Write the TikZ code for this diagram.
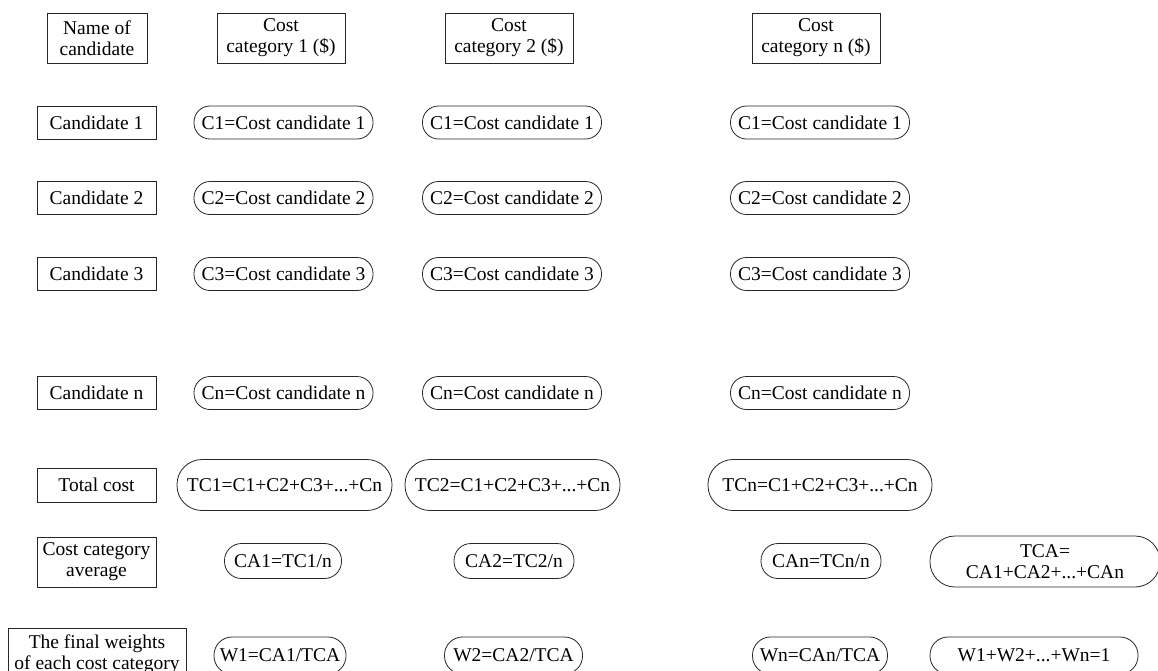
\documentclass[tikz,border=0pt]{standalone}
\usepackage{fontspec}
\setmainfont{Liberation Serif}
\begin{document}
\begin{tikzpicture}[x=1pt,y=-1pt,
  base/.style={draw=black!85, line width=0.8pt, inner sep=0pt, align=center,
    font=\fontsize{19.5}{21}\selectfont},
  box/.style={base, rectangle, minimum width=#1},
  pill/.style={base, rectangle, rounded corners=16pt, minimum width=#1, minimum height=33pt},
  bigpill/.style={base, rectangle, rounded corners=25pt, minimum width=#1, minimum height=51pt},
  midpill/.style={base, rectangle, rounded corners=17pt, minimum width=#1, minimum height=35pt}
]
\useasboundingbox (0,0) rectangle (1158,670);
\clip (0,0) rectangle (1158,670);
% header
\node[box=100pt, minimum height=50pt] (hName) at (97,38) {Name of\\candidate};
\node[box=128pt, minimum height=50pt] (hC1) at (281,38) {Cost\\category 1 (\$)};
\node[box=128pt, minimum height=50pt] (hC2) at (509,38) {Cost\\category 2 (\$)};
\node[box=128pt, minimum height=50pt] (hCn) at (816,38) {Cost\\category n (\$)};
% left column
\node[box=119pt, minimum height=33pt] (cand1) at (96.5,122.5) {Candidate 1};
\node[box=119pt, minimum height=33pt] (cand2) at (96.5,198) {Candidate 2};
\node[box=119pt, minimum height=33pt] (cand3) at (96.5,274) {Candidate 3};
\node[box=119pt, minimum height=33pt] (candn) at (96.5,393) {Candidate n};
\node[box=119pt, minimum height=34pt] (total) at (96.5,485) {Total cost};
\node[box=119pt, minimum height=50pt] (avg) at (96.5,562) {Cost category\\average};
\node[box=178pt, minimum height=52pt] (final) at (97,654) {The final weights\\of each cost category};
% cost cells
\foreach \col/\x in {a/283.5, b/512, c/820}{
  \node[pill=179pt] (\col1) at (\x,122.5) {C1=Cost candidate 1};
  \node[pill=179pt] (\col2) at (\x,198) {C2=Cost candidate 2};
  \node[pill=179pt] (\col3) at (\x,274) {C3=Cost candidate 3};
  \node[pill=179pt] (\col n) at (\x,393) {Cn=Cost candidate n};
}
% totals
\node[bigpill=215pt] (tc1) at (284.5,485) {TC1=C1+C2+C3+...+Cn};
\node[bigpill=215pt] (tc2) at (512.5,485) {TC2=C1+C2+C3+...+Cn};
\node[bigpill=224pt] (tcn) at (820,485) {TCn=C1+C2+C3+...+Cn};
% averages
\node[midpill=117pt] (ca1) at (283,561) {CA1=TC1/n};
\node[midpill=120pt] (ca2) at (514,561) {CA2=TC2/n};
\node[midpill=120pt] (can) at (821,561) {CAn=TCn/n};
\node[bigpill=230pt] (tca) at (1045,561.5) {TCA=\\CA1+CA2+...+CAn};
% weights
\node[base, rectangle, rounded corners=18pt, minimum width=132pt, minimum height=37pt] (w1) at (280,655.5) {W1=CA1/TCA};
\node[base, rectangle, rounded corners=18pt, minimum width=138pt, minimum height=37pt] (w2) at (513.5,655.5) {W2=CA2/TCA};
\node[base, rectangle, rounded corners=18pt, minimum width=135pt, minimum height=37pt] (wn) at (820,655.5) {Wn=CAn/TCA};
\node[base, rectangle, rounded corners=18pt, minimum width=208pt, minimum height=37pt] (wsum) at (1034,655.5) {W1+W2+...+Wn=1};
\end{tikzpicture}
\end{document}
